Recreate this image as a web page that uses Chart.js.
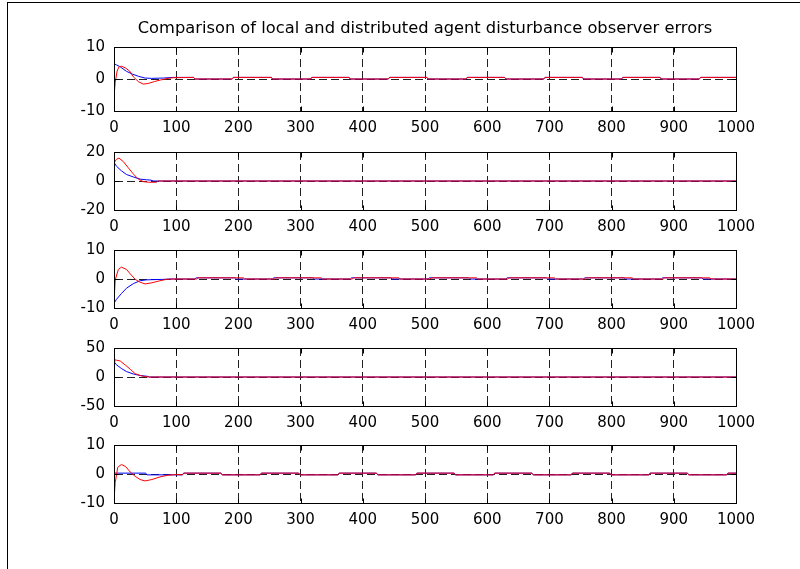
<!DOCTYPE html>
<html><head><meta charset="utf-8">
<script src="https://cdn.jsdelivr.net/npm/chart.js@4.4.0/dist/chart.umd.min.js"></script>
<style>
html,body{margin:0;padding:0;background:#fff;}
#fig{position:relative;width:800px;height:569px;overflow:hidden;background:#fff;}
#frame{position:absolute;left:7px;top:2px;width:900px;height:700px;border-left:1px solid #000;border-top:1px solid #000;}
canvas{position:absolute;left:0;}
</style></head><body>
<div id="fig"><div id="frame"></div>
<canvas id="c0"></canvas><canvas id="c1"></canvas><canvas id="c2"></canvas><canvas id="c3"></canvas><canvas id="c4"></canvas>
</div>
<script>
// ---- data ----
const titleText = "Comparison of local and distributed agent disturbance observer errors";
const xTicks = [0,100,200,300,400,500,600,700,800,900,1000];
const yRanges = [10, 20, 10, 50, 10];

// subplot 1
const s1BlueT = [0,4,10,20,30,40,50,60,80,95,128,130,190,192,253,255,316,318,378,380,441,443,503,505,566,568,628,630,691,693,753,755,816,818,878,880,941,943,1000];
const s1BlueV = [4.8,4.4,3.8,2.4,1.5,0.8,0.3,0.2,0.3,0.5,0.5,0,0,0.5,0.5,0,0,0.5,0.5,0,0,0.5,0.5,0,0,0.5,0.5,0,0,0.5,0.5,0,0,0.5,0.5,0,0,0.5,0.5];
const s1RedT = [0,2,5,8,12,18,25,31,39,47,55,65,75,87,95,128,130,190,192,253,255,316,318,378,380,441,443,503,505,566,568,628,630,691,693,753,755,816,818,878,880,941,943,1000];
const s1RedV = [-5.5,-1,2.5,3.8,4.0,3.5,2.5,0.7,-0.8,-1.6,-1.4,-0.8,-0.3,0.2,0.4,0.5,0,0,0.5,0.5,0,0,0.5,0.5,0,0,0.5,0.5,0,0,0.5,0.5,0,0,0.5,0.5,0,0,0.5,0.5,0,0,0.5,0.5];

// subplot 2
const s2BlueT = [0,4,12,20,31,42,52,60,61,1000];
const s2BlueV = [12.8,10.2,7,4.5,2.8,1.3,0.85,0.6,0,0];
const s2RedT = [0,4,8,15,23,31,39,47,55,68,71,1000];
const s2RedV = [12.5,15,15.8,13.4,9.1,4.9,1.3,-0.4,-0.85,-0.85,0,0];

// subplot 3
const s3BlueT = [0,4,12,20,31,42,52,82,90,130,132,195,197,255,257,320,322,380,382,445,447,505,507,570,572,630,632,695,697,755,757,820,822,880,882,945,947,1000];
const s3BlueV = [-8.4,-7,-5,-3.2,-1.6,-0.6,-0.3,-0.1,0,0,0.4,0.4,0,0,0.4,0.4,0,0,0.4,0.4,0,0,0.4,0.4,0,0,0.4,0.4,0,0,0.4,0.4,0,0,0.4,0.4,0,0];
const s3RedT = [0,2,7,12,20,26,34,42,50,61,74,85,95,133,135,208,210,258,260,333,335,383,385,458,460,508,510,583,585,633,635,708,710,758,760,833,835,883,885,958,960,1000];
const s3RedV = [-8,-0.3,3.3,4.1,3.3,1.8,-0.1,-1.1,-1.7,-1.3,-0.6,-0.1,0,0,0.4,0.4,0,0,0.4,0.4,0,0,0.4,0.4,0,0,0.4,0.4,0,0,0.4,0.4,0,0,0.4,0.4,0,0,0.4,0.4,0,0];

// subplot 4
const s4BlueT = [0,1,4,12,20,31,42,55,57,1000];
const s4BlueV = [30,25,21,14.6,9.4,5.2,2.6,1,0,0];
const s4RedT = [0,4,10,18,26,34,42,50,55,1000];
const s4RedV = [30,29,27.6,20.8,13.5,5.7,2.6,0.5,0,0];

// subplot 5
const s5BlueT = [0,51,53,110,112,172,174,235,237,297,299,360,362,422,424,485,487,547,549,610,612,672,674,735,737,797,799,860,862,922,924,985,987,1000];
const s5BlueV = [0.3,0.3,-0.3,-0.3,0.3,0.3,-0.3,-0.3,0.3,0.3,-0.3,-0.3,0.3,0.3,-0.3,-0.3,0.3,0.3,-0.3,-0.3,0.3,0.3,-0.3,-0.3,0.3,0.3,-0.3,-0.3,0.3,0.3,-0.3,-0.3,0.3,0.3];
const s5RedT = [0,2,6,12,19,26,34,42,50,61,74,87,101,110,112,172,174,235,237,297,299,360,362,422,424,485,487,547,549,610,612,672,674,735,737,797,799,860,862,922,924,985,987,1000];
const s5RedV = [-9,-2.9,2.3,3.3,2.5,0.7,-0.8,-1.9,-2.4,-1.9,-1.0,-0.4,-0.2,-0.3,0.3,0.3,-0.3,-0.3,0.3,0.3,-0.3,-0.3,0.3,0.3,-0.3,-0.3,0.3,0.3,-0.3,-0.3,0.3,0.3,-0.3,-0.3,0.3,0.3,-0.3,-0.3,0.3,0.3,-0.3,-0.3,0.3,0.3];

const subplots = [
  [s1BlueT, s1BlueV, s1RedT, s1RedV],
  [s2BlueT, s2BlueV, s2RedT, s2RedV],
  [s3BlueT, s3BlueV, s3RedT, s3RedV],
  [s4BlueT, s4BlueV, s4RedT, s4RedV],
  [s5BlueT, s5BlueV, s5RedT, s5RedV]
];

// ---- layout ----
const boxTops = [47, 146, 244, 342, 439];
const boxH = 64;
const plotLeft = 114, plotRight = 736, xAxisH = 30, padTop = 12;

Chart.defaults.font.family = "'DejaVu Sans', sans-serif";
Chart.defaults.color = '#000';

const frameBox = {
  id: 'frameBox',
  afterDraw(chart) {
    const {ctx, chartArea: a, scales} = chart;
    ctx.save();
    ctx.strokeStyle = '#000';
    ctx.lineWidth = 1;
    const L = Math.round(a.left) + 0.5, R = Math.round(a.right) + 0.5;
    const T = Math.round(a.top) + 0.5, B = Math.round(a.bottom) + 0.5;
    ctx.strokeRect(L, T, R - L, B - T);
    ctx.beginPath();
    scales.x.ticks.forEach(t => {
      const x = Math.round(scales.x.getPixelForValue(t.value)) + 0.5;
      ctx.moveTo(x, B); ctx.lineTo(x, B - 5);
      ctx.moveTo(x, T); ctx.lineTo(x, T + 5);
    });
    scales.y.ticks.forEach(t => {
      const y = Math.round(scales.y.getPixelForValue(t.value)) + 0.5;
      ctx.moveTo(L, y); ctx.lineTo(L + 5, y);
      ctx.moveTo(R, y); ctx.lineTo(R - 5, y);
    });
    ctx.stroke();
    ctx.restore();
  }
};

function pts(T, V) { return T.map((t, i) => ({x: t, y: V[i]})); }

subplots.forEach((sp, i) => {
  const cv = document.getElementById('c' + i);
  const first = i === 0;
  const top = first ? 0 : boxTops[i] - padTop;
  const h = first ? boxTops[0] + boxH + xAxisH : padTop + boxH + xAxisH;
  cv.width = 800; cv.height = h;
  cv.style.top = top + 'px'; cv.style.width = '800px'; cv.style.height = h + 'px';
  const R = yRanges[i];
  new Chart(cv, {
    type: 'line',
    data: {
      datasets: [
        {label: 'distributed', data: pts(sp[2], sp[3]), borderColor: '#ff0000', borderWidth: 1, pointRadius: 0, tension: 0, fill: false},
        {label: 'local', data: pts(sp[0], sp[1]), borderColor: '#0000ff', borderWidth: 1, pointRadius: 0, tension: 0, fill: false}
      ]
    },
    options: {
      responsive: false,
      animation: false,
      events: [],
      layout: {padding: {top: first ? 0 : padTop, left: 0, right: 800 - plotRight, bottom: 0}},
      plugins: {
        legend: {display: false},
        tooltip: {enabled: false},
        title: {
          display: first,
          text: titleText,
          fullSize: false,
          color: '#000',
          font: {size: 16.3, weight: 'normal', lineHeight: 19 / 16.3},
          padding: {top: 19, bottom: 9}
        }
      },
      scales: {
        x: {
          type: 'linear', min: 0, max: 1000,
          afterBuildTicks: s => { s.ticks = xTicks.map(v => ({value: v})); },
          afterFit: s => { s.height = xAxisH; },
          ticks: {autoSkip: false, maxRotation: 0, padding: 8, font: {size: 15}, color: '#000', callback: v => String(v)},
          grid: {color: '#222', lineWidth: 1, drawTicks: false},
          border: {display: true, color: '#000', width: 1, dash: [8, 4]}
        },
        y: {
          type: 'linear', min: -R, max: R,
          afterBuildTicks: s => { s.ticks = [-R, 0, R].map(v => ({value: v})); },
          afterFit: s => { s.width = plotLeft; },
          ticks: {padding: 9, font: {size: 15}, color: '#000', callback: v => String(v)},
          grid: {color: '#222', lineWidth: 1, drawTicks: false},
          border: {display: true, color: '#000', width: 1, dash: [8, 4]}
        }
      }
    },
    plugins: [frameBox]
  });
});
</script>
</body></html>
